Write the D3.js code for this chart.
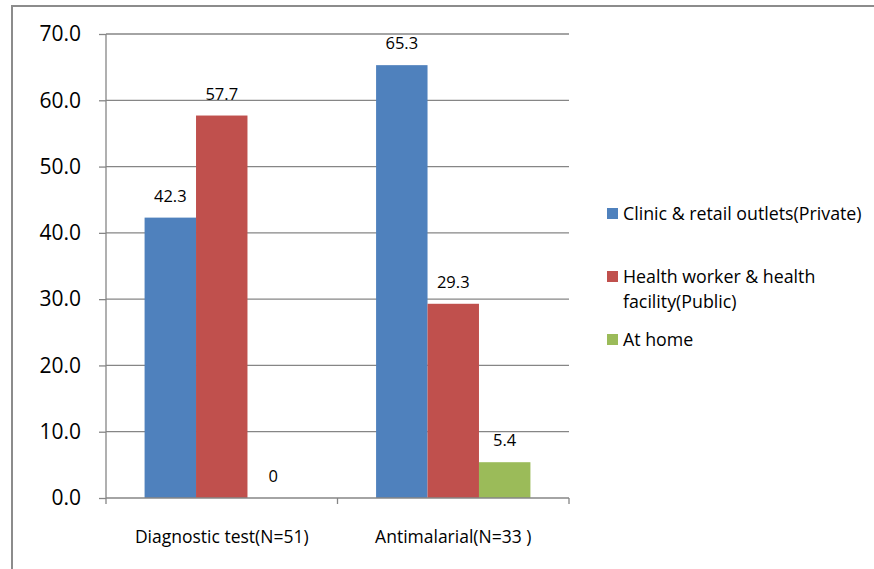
<!DOCTYPE html>
<html>
<head>
<meta charset="utf-8">
<script src="https://cdn.jsdelivr.net/npm/d3@7/dist/d3.min.js"></script>
<style>
html,body{margin:0;padding:0;background:#fff;}
svg{display:block;font-family:"Open Sans",sans-serif;}
</style>
</head>
<body>
<svg id="chart" width="874" height="569"></svg>
<script>
const categories = ["Diagnostic test(N=51)", "Antimalarial(N=33 )"];
const seriesNames = ["Clinic & retail outlets(Private)", "Health worker & health facility(Public)", "At home"];
const legendLines = [["Clinic & retail outlets(Private)"], ["Health worker & health", "facility(Public)"], ["At home"]];
const privateValues = [42.3, 65.3];
const publicValues = [57.7, 29.3];
const homeValues = [0, 5.4];
const valueLabels = [["42.3", "65.3"], ["57.7", "29.3"], ["0", "5.4"]];
const yTicks = [0, 10, 20, 30, 40, 50, 60, 70];
const colors = ["#4F81BD", "#C0504D", "#9BBB59"];

(function () {
const seriesValues = [privateValues, publicValues, homeValues];
const svg = d3.select("#chart");
svg.append("rect").attr("width", 874).attr("height", 569).attr("fill", "#fff");
// outer chart border
svg.append("rect").attr("x", 12).attr("y", 6).attr("width", 880).attr("height", 600)
  .attr("fill", "none").attr("stroke", "#8c8c8c").attr("stroke-width", 2);

const pLeft = 106, pRight = 569, pTop = 34, pBottom = 498;
const y = d3.scaleLinear().domain([0, 70]).range([pBottom, pTop]);
const x0 = d3.scaleBand().domain(categories).range([pLeft, pRight]).padding(0);
const x1 = d3.scaleBand().domain(d3.range(seriesNames.length)).range([0, x0.bandwidth()])
  .paddingInner(0).paddingOuter(0.75);
const grey = "#868686";

// gridlines
svg.append("g").selectAll("line").data(yTicks.filter(d => d > 0)).join("line")
  .attr("x1", pLeft).attr("x2", pRight).attr("y1", d => y(d)).attr("y2", d => y(d))
  .attr("stroke", grey).attr("stroke-width", 1.3);

// y axis
const yAxis = svg.append("g").attr("transform", `translate(${pLeft},0)`)
  .call(d3.axisLeft(y).tickValues(yTicks).tickFormat(d3.format(".1f")).tickSize(7).tickPadding(18));
yAxis.select(".domain").attr("stroke", grey).attr("stroke-width", 1.3).attr("d", `M0,${pTop}V${pBottom}`);
yAxis.selectAll(".tick line").attr("stroke", grey).attr("stroke-width", 1.3);
yAxis.selectAll(".tick text").attr("font-size", 21).attr("fill", "#000").attr("font-family", "Open Sans");

// bars
const groups = svg.append("g").selectAll("g").data(categories).join("g")
  .attr("transform", d => `translate(${x0(d)},0)`);
const cellData = (c, ci) => seriesValues.map((s, si) => ({si, v: s[ci], label: valueLabels[si][ci]}));
groups.selectAll("rect").data(cellData).join("rect")
  .attr("x", d => x1(d.si)).attr("width", x1.bandwidth())
  .attr("y", d => y(d.v)).attr("height", d => y(0) - y(d.v))
  .attr("fill", d => colors[d.si]);
groups.selectAll("text").data(cellData).join("text")
  .attr("x", d => x1(d.si) + x1.bandwidth() / 2).attr("y", d => y(d.v) - 16)
  .attr("text-anchor", "middle").attr("font-size", 16.5).attr("fill", "#000")
  .text(d => d.label);

// x axis
svg.append("line").attr("x1", pLeft).attr("x2", pRight).attr("y1", pBottom).attr("y2", pBottom)
  .attr("stroke", grey).attr("stroke-width", 1.3);
const xTickPos = [pLeft, ...categories.slice(1).map(c => x0(c)), pRight];
svg.append("g").selectAll("line").data(xTickPos).join("line")
  .attr("x1", d => d).attr("x2", d => d).attr("y1", pBottom).attr("y2", pBottom + 6)
  .attr("stroke", grey).attr("stroke-width", 1.3);
svg.append("g").selectAll("text").data(categories).join("text")
  .attr("x", d => x0(d) + x0.bandwidth() / 2).attr("y", 543)
  .attr("text-anchor", "middle").attr("font-size", 17.5).attr("fill", "#000")
  .text(d => d);

// legend
const legendY = [214, 277, 340];
const lg = svg.append("g").selectAll("g").data(seriesNames).join("g")
  .attr("transform", (d, i) => `translate(607,${legendY[i]})`);
lg.append("rect").attr("x", 0).attr("y", -6).attr("width", 11).attr("height", 11)
  .attr("fill", (d, i) => colors[i]);
lg.append("text").attr("x", 16).attr("y", 6).attr("font-size", 17.8).attr("fill", "#000")
  .selectAll("tspan").data((d, i) => legendLines[i]).join("tspan")
  .attr("x", 16).attr("dy", (d, j) => j === 0 ? 0 : 25).text(d => d);
})();
</script>
</body>
</html>
